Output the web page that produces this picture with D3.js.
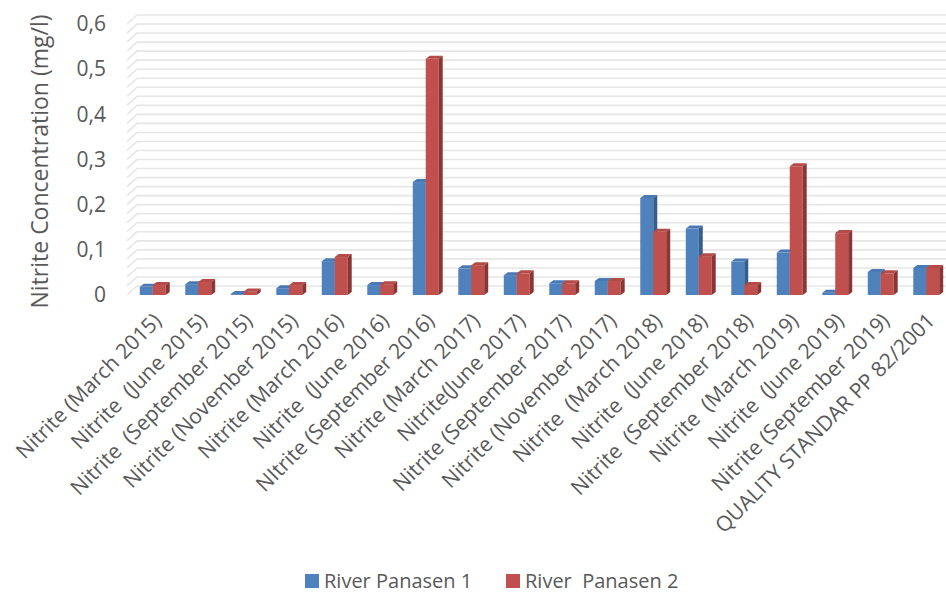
<!DOCTYPE html>
<html>
<head>
<meta charset="utf-8">
<script src="https://cdn.jsdelivr.net/npm/d3@7"></script>
<style>
  body { margin: 0; background: #fff; }
  svg { display: block; font-family: "Open Sans", sans-serif; }
  text { white-space: pre; }
</style>
</head>
<body>
<svg id="chart" width="946" height="593"></svg>
<script>
// chart data
const categories = [
  'Nitrite (March 2015)', 'Nitrite  (June 2015)', 'Nitrite  (September 2015)',
  'Nitrite (November 2015)', 'Nitrite (March 2016)', 'Nitrite  (June 2016)',
  'NItrite (September 2016)', 'Nitrite (March 2017)', 'Nitrite(June 2017)',
  'Nitrite (September 2017)', 'Nitrite (November 2017)', 'Nitrite  (March 2018)',
  'Nitrite  (June 2018)', 'Nitrite  (September 2018)', 'Nitrite  (March 2019)',
  'Nitrite  (June 2019)', 'Nitrite (September 2019)', 'QUALITY STANDAR PP 82/2001'
];
const seriesNames = ['River Panasen 1', 'River  Panasen 2'];
const river1 = [0.018, 0.024, 0.002, 0.015, 0.075, 0.022, 0.25, 0.059, 0.044, 0.026, 0.031, 0.215, 0.147, 0.074, 0.094, 0.005, 0.051, 0.06];
const river2 = [0.022, 0.029, 0.008, 0.022, 0.084, 0.024, 0.523, 0.066, 0.048, 0.026, 0.031, 0.14, 0.086, 0.022, 0.285, 0.137, 0.048, 0.06];
const yTicks = [0, 0.1, 0.2, 0.3, 0.4, 0.5, 0.6];
const gridStep = 0.02;

const colors = [
  { front: '#4f81bd', top: '#4a79b3', side: '#375d8a' },
  { front: '#c0504d', top: '#b54b48', side: '#8a3634' }
];

const svg = d3.select('#chart');

const x = d3.scaleBand()
  .domain(categories)
  .range([130, 949])
  .paddingInner(0.43)
  .paddingOuter(0.215);

const xSub = d3.scaleBand()
  .domain([0, 1])
  .range([0, x.bandwidth()]);

const y = d3.scaleLinear()
  .domain([0, 0.6])
  .range([295, 24]);

// 3d offsets
const wallDx = 10, wallDy = -9;
const barDx = 4, barDy = -3;

// gridlines on side and back wall
const gridVals = d3.range(0, 0.6 + 1e-9, gridStep);
const grid = svg.append('g').attr('class', 'grid');
gridVals.forEach(v => {
  const yy = y(v);
  grid.append('path')
    .attr('d', `M127,${yy} L${127 + wallDx},${yy + wallDy} L946,${yy + wallDy}`)
    .attr('fill', 'none')
    .attr('stroke', '#e6e6e6')
    .attr('stroke-width', 1.6);
});

// y axis labels
const locale = d3.formatLocale({ decimal: ',', thousands: '.', grouping: [3], currency: ['', ''] });
const fmt = d => d === 0 ? '0' : locale.format('.1f')(d);

const yAxis = svg.append('g')
  .attr('transform', 'translate(106,0)')
  .call(d3.axisLeft(y).tickValues(yTicks).tickFormat(fmt).tickSize(0).tickPadding(0));
yAxis.select('.domain').remove();
yAxis.selectAll('text')
  .attr('fill', '#595959')
  .style('font-size', '21px')
  .style('font-family', '"Open Sans", sans-serif');

svg.append('text')
  .attr('transform', `translate(48,${(y(0) + y(0.6)) / 2 + 2}) rotate(-90)`)
  .attr('text-anchor', 'middle')
  .attr('fill', '#595959')
  .style('font-size', '23px')
  .text('Nitrite Concentration (mg/l)');

// bars
const seriesData = [river1, river2];
const bars = svg.append('g').attr('class', 'bars');
categories.forEach((c, i) => {
  seriesData.forEach((vals, s) => {
    const x0 = x(c) + xSub(s);
    const w = xSub.bandwidth();
    const yt = y(vals[i]);
    const yb = y(0);
    const col = colors[s];
    const g = bars.append('g');
    g.append('rect')
      .attr('x', x0).attr('y', yt)
      .attr('width', w).attr('height', yb - yt)
      .attr('fill', col.front);
    g.append('path')
      .attr('d', `M${x0},${yt} L${x0 + barDx},${yt + barDy} L${x0 + w + barDx},${yt + barDy} L${x0 + w},${yt} Z`)
      .attr('fill', col.top);
    g.append('path')
      .attr('d', `M${x0 + w},${yt} L${x0 + w + barDx},${yt + barDy} L${x0 + w + barDx},${yb + barDy} L${x0 + w},${yb} Z`)
      .attr('fill', col.side);
  });
});

// x labels
const xLabels = svg.append('g').attr('class', 'x-labels');
categories.forEach(c => {
  const cx = x(c) + x.bandwidth() / 2;
  xLabels.append('text')
    .attr('transform', `translate(${cx + 10},${322}) rotate(-45)`)
    .attr('text-anchor', 'end')
    .attr('fill', '#595959')
    .style('font-size', '21px')
    .text(c);
});

// legend
const legend = svg.append('g').attr('class', 'legend');
const legendX = [305, 506];
seriesNames.forEach((name, s) => {
  const g = legend.append('g').attr('transform', `translate(${legendX[s]},574)`);
  g.append('rect')
    .attr('width', 14).attr('height', 14)
    .attr('fill', colors[s].front);
  g.append('text')
    .attr('x', 19).attr('y', 14)
    .attr('fill', '#595959')
    .style('font-size', '20px')
    .text(name);
});
</script>
</body>
</html>
